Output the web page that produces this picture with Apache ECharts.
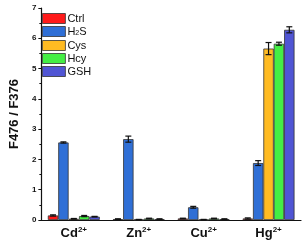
<!DOCTYPE html>
<html><head><meta charset="utf-8">
<script src="https://cdn.jsdelivr.net/npm/echarts@6/dist/echarts.min.js"></script>
<style>html,body{margin:0;padding:0;background:#fff}#c{width:303px;height:245px}</style>
</head><body><div id="c"></div>
<script>
var categories = ['Cd', 'Zn', 'Cu', 'Hg'];
var seriesNames = ['Ctrl', 'H2S', 'Cys', 'Hcy', 'GSH'];
var ctrlVals = [0.15, 0.03, 0.05, 0.05];
var h2sVals = [2.56, 2.67, 0.42, 1.88];
var cysVals = [0.04, 0.01, 0.01, 5.66];
var hcyVals = [0.13, 0.05, 0.05, 5.82];
var gshVals = [0.11, 0.03, 0.03, 6.28];
var ctrlErr = [0.02, 0.01, 0.01, 0.02];
var h2sErr = [0.02, 0.1, 0.03, 0.08];
var cysErr = [0.01, 0.01, 0.01, 0.2];
var hcyErr = [0.02, 0.01, 0.01, 0.05];
var gshErr = [0.01, 0.01, 0.01, 0.1];
var yTicks = [0, 1, 2, 3, 4, 5, 6, 7];
var colors = ['#ff1a1a', '#2f6fd6', '#ffbb22', '#44ee44', '#5055d4'];

var vals = [ctrlVals, h2sVals, cysVals, hcyVals, gshVals];
var errs = [ctrlErr, h2sErr, cysErr, hcyErr, gshErr];
var chart = echarts.init(document.getElementById('c'));
var series = [];
vals.forEach(function (v, i) {
  series.push({
    name: seriesNames[i], type: 'bar', data: v, barGap: '0%', barCategoryGap: '20%',
    itemStyle: {color: colors[i], borderColor: '#333', borderWidth: 0.8}
  });
});
vals.forEach(function (v, i) {
  series.push({
    type: 'custom', silent: true, z: 10,
    data: v.map(function (d, k) { return [k, d, errs[i][k]]; }),
    renderItem: function (params, api) {
      var k = api.value(0), m = api.value(1), e = api.value(2);
      var band = api.size([1, 0])[0];
      var bw = band * 0.8 / 5;
      var c = api.coord([k, m]);
      var x = c[0] + (i - 2) * bw;
      var y1 = api.coord([k, m + e])[1], y0 = api.coord([k, m - e])[1];
      var cap = 3;
      var st = {stroke: '#111', lineWidth: 1.2};
      return {type: 'group', children: [
        {type: 'line', shape: {x1: x, y1: y1, x2: x, y2: y0}, style: st},
        {type: 'line', shape: {x1: x - cap, y1: y1, x2: x + cap, y2: y1}, style: st},
        {type: 'line', shape: {x1: x - cap, y1: y0, x2: x + cap, y2: y0}, style: st}
      ]};
    }
  });
});
var legendCommon = {
  left: 37, orient: 'vertical', itemWidth: 23, itemHeight: 10, itemGap: 2,
  icon: 'rect',
  textStyle: {fontFamily: 'Liberation Sans', fontSize: 11, color: '#111', padding: [0, 0, 0, -3],
    rich: {sub: {fontSize: 7, verticalAlign: 'bottom', padding: [4, 0, 0, 0], fontFamily: 'Liberation Sans'}}},
  itemStyle: {borderColor: '#333', borderWidth: 0.8},
  formatter: function (n) { return n === 'H2S' ? 'H{sub|2}S' : n; },
  selectedMode: false
};
chart.setOption({
  animation: false,
  color: colors,
  grid: {left: 33, right: 2, top: 8, bottom: 25},
  legend: [
    Object.assign({}, legendCommon, {top: 8, data: ['Ctrl', 'H2S']}),
    Object.assign({}, legendCommon, {top: 35, data: ['Cys', 'Hcy', 'GSH']})
  ],
  xAxis: {
    type: 'category', data: categories,
    axisLine: {lineStyle: {color: '#111', width: 1.2}},
    axisTick: {alignWithLabel: true, length: 3, lineStyle: {color: '#111'}},
    axisLabel: {
      interval: 0, margin: 6,
      formatter: function (v) { return v + '{sup|2+}'; },
      fontFamily: 'Liberation Sans', fontWeight: 'bold', fontSize: 13, color: '#111',
      rich: {sup: {fontSize: 8, fontWeight: 'bold', verticalAlign: 'top', padding: [0, 0, 6, 0], fontFamily: 'Liberation Sans', color: '#111'}}
    }
  },
  yAxis: {
    type: 'value', min: yTicks[0], max: yTicks[yTicks.length - 1], interval: 1,
    name: 'F476 / F376', nameLocation: 'middle', nameGap: 17,
    nameTextStyle: {fontFamily: 'Liberation Sans', fontWeight: 'bold', fontSize: 13, color: '#111'},
    axisLine: {show: true, lineStyle: {color: '#111', width: 1.2}},
    axisTick: {show: true, length: 3, lineStyle: {color: '#111'}},
    minorTick: {show: true, splitNumber: 2, length: 2, lineStyle: {color: '#111'}},
    splitLine: {show: false},
    axisLabel: {margin: 5, fontFamily: 'Liberation Sans', fontWeight: 'bold', fontSize: 8, color: '#111'}
  },
  series: series
});
</script></body></html>
